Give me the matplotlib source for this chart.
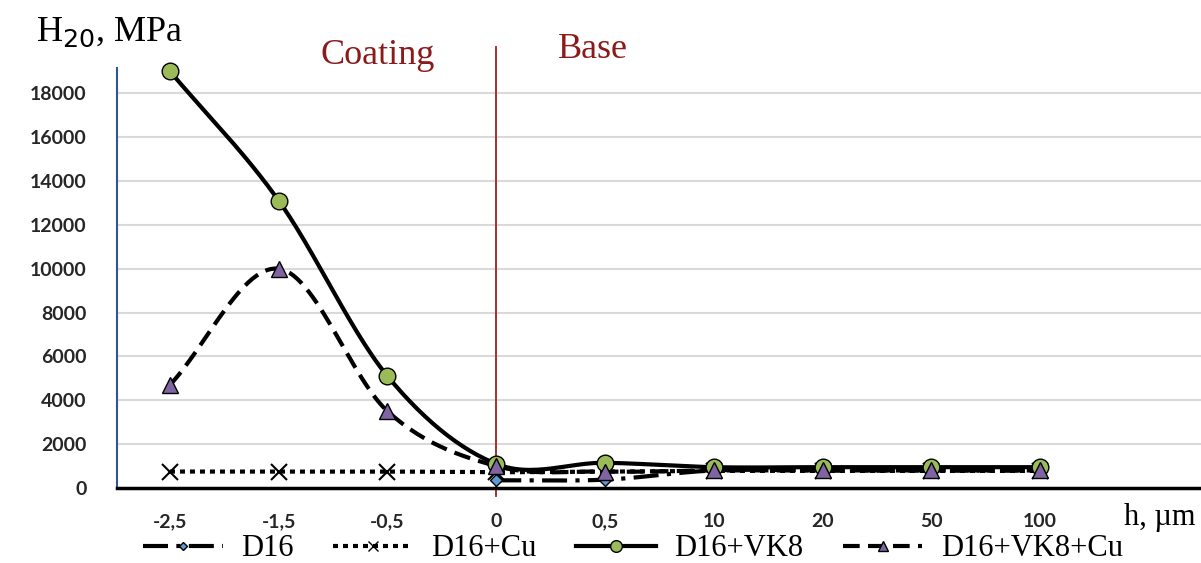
import numpy as np
import matplotlib
matplotlib.use("Agg")
import matplotlib.pyplot as plt
from matplotlib.lines import Line2D

categories = ["-2,5", "-1,5", "-0,5", "0", "0,5", "10", "20", "50", "100"]
d16 = [np.nan, np.nan, np.nan, 350, 380, 800, 800, 800, 800]
d16_cu = [750, 750, 750, 720, 750, 780, 780, 780, 780]
d16_vk8 = [19000, 13100, 5100, 1100, 1150, 950, 950, 950, 950]
d16_vk8_cu = [4700, 10000, 3500, 1000, 750, 800, 800, 800, 800]
yticks = [0, 2000, 4000, 6000, 8000, 10000, 12000, 14000, 16000, 18000]


def smooth(x, y, n=30):
    """Excel-like smoothed line (Catmull-Rom) through the given points."""
    x = np.asarray(x, float)
    y = np.asarray(y, float)
    m = ~np.isnan(y)
    x, y = x[m], y[m]
    px = np.concatenate([[2 * x[0] - x[1]], x, [2 * x[-1] - x[-2]]])
    py = np.concatenate([[2 * y[0] - y[1]], y, [2 * y[-1] - y[-2]]])
    xs, ys = [], []
    t = np.linspace(0, 1, n)
    for i in range(1, len(px) - 2):
        p0, p1, p2, p3 = [np.array([px[j], py[j]]) for j in range(i - 1, i + 3)]
        pts = 0.5 * ((2 * p1)[:, None] + (-p0 + p2)[:, None] * t
                     + (2 * p0 - 5 * p1 + 4 * p2 - p3)[:, None] * t ** 2
                     + (-p0 + 3 * p1 - 3 * p2 + p3)[:, None] * t ** 3)
        xs.extend(pts[0]); ys.extend(pts[1])
    return np.array(xs), np.array(ys)


fig = plt.figure(figsize=(12.01, 5.63), dpi=100)
ax = fig.add_axes([117 / 1201, 75 / 563, 1 - 117 / 1201, (488 - 68) / 563])
x = np.arange(len(categories))

series = [
    ("D16", d16, dict(ls=(0, (6, 2, 1, 2)), marker="D", mfc="#5B9BD5", ms=6)),
    ("D16+Cu", d16_cu, dict(ls=(0, (1.2, 1.2)), marker="x", mfc="none", ms=11)),
    ("D16+VK8", d16_vk8, dict(ls="-", marker="o", mfc="#9BBB59", ms=12)),
    ("D16+VK8+Cu", d16_vk8_cu, dict(ls=(0, (4, 2)), marker="^", mfc="#8064A2", ms=11)),
]

handles = []
for name, vals, st in series:
    sx, sy = smooth(x, vals)
    ax.plot(sx, sy, color="black", lw=3.0, ls=st["ls"], zorder=3, clip_on=False,
            solid_capstyle="butt")
    ax.plot(x, vals, ls="none", marker=st["marker"], mfc=st["mfc"], mec="black",
            mew=1.0 if st["marker"] != "x" else 1.5, ms=st["ms"], zorder=4, clip_on=False)
    handles.append(Line2D([], [], color="black", lw=3.0, ls=st["ls"], marker=st["marker"],
                          mfc=st["mfc"], mec="black", ms=st["ms"] * 0.7))

ax.set_xlim(-0.487, 9.48)
ax.set_ylim(0, 19150)
ax.set_yticks(yticks)
ax.set_xticks(x)
ax.set_xticklabels(categories)
ax.yaxis.grid(True, color="#d9d9d9", lw=1.5)
ax.set_axisbelow(True)
for s in ["top", "right"]:
    ax.spines[s].set_visible(False)
ax.spines["left"].set_color("#2F5597")
ax.spines["left"].set_linewidth(1.5)
ax.spines["bottom"].set_color("black")
ax.spines["bottom"].set_linewidth(2.5)
ax.tick_params(axis="y", length=0, pad=22)
ax.tick_params(axis="x", length=0, pad=18)
for lab in ax.get_yticklabels() + ax.get_xticklabels():
    lab.set_fontfamily("Lato")
    lab.set_fontweight("bold")
    lab.set_fontsize(14)
    lab.set_color("#262626")

# boundary line coating/base
ax.axvline(3, ymin=-0.02, ymax=1.05, color="#A32020", lw=1.3, zorder=2, clip_on=False)

serif = "Liberation Serif"
dark_red = "#8B1A1A"
fig.text(378 / 1201, 1 - 55 / 563, "Coating", ha="center", va="center",
         fontsize=26, family=serif, color=dark_red)
fig.text(593 / 1201, 1 - 50 / 563, "Base", ha="center", va="center",
         fontsize=26, family=serif, color=dark_red)
fig.text(36 / 1201, 1 - 32 / 563, r"H$_{20}$, MPa", ha="left", va="center",
         fontsize=26, family=serif, color="black")
fig.text(1195 / 1201, 1 - 517 / 563, "h, µm", ha="right", va="center",
         fontsize=22, family=serif, color="black")

fig.legend(handles, [s[0] for s in series], loc="center", bbox_to_anchor=(0.527, 1 - 549 / 563),
           ncol=4, frameon=False, prop={"family": serif, "size": 22},
           handlelength=2.6, columnspacing=1.3, handletextpad=0.6, borderpad=0)

fig.savefig("out.png", dpi=100)
